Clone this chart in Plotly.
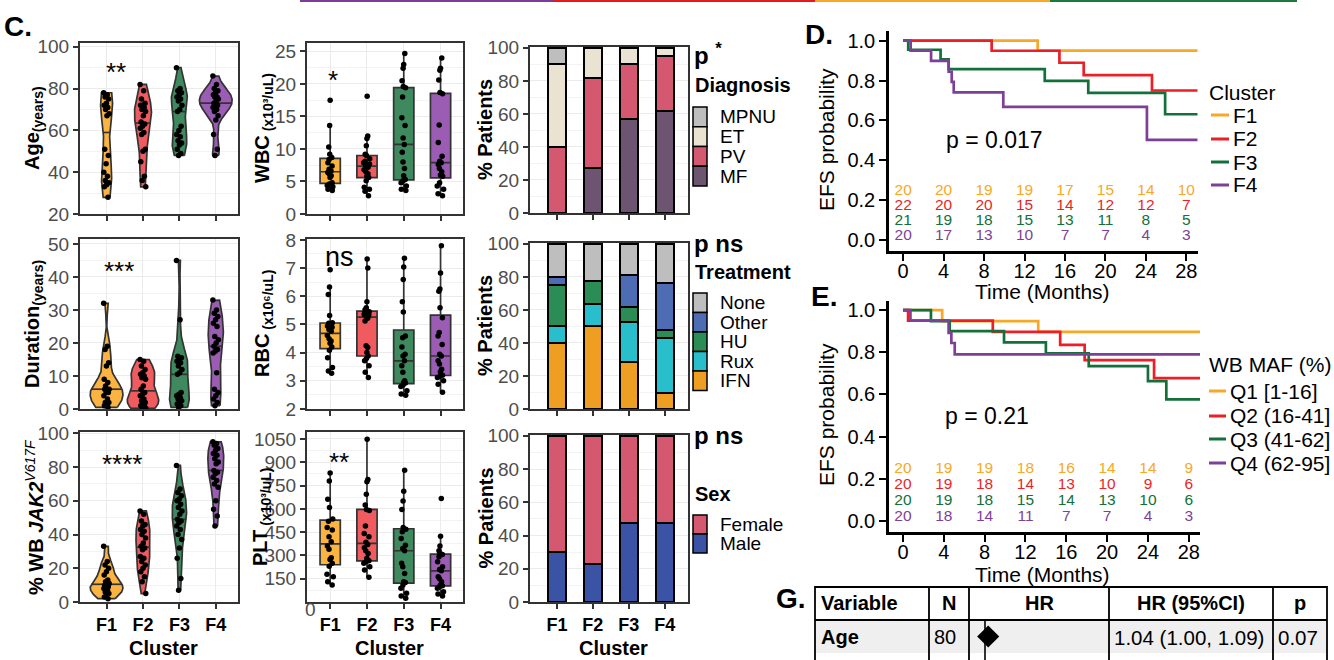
import numpy as np
import plotly.graph_objects as go

W, H = 1334, 660
FONT = "Liberation Sans, Arial, Helvetica, sans-serif"

# ---------------- data ----------------
CLUSTERS = ["F1", "F2", "F3", "F4"]
CLUSTER_POS = [1, 2, 3, 4]
CL_FILL = ["#FBB442", "#EF5B5E", "#3E8A5E", "#9B5CB4"]

AGE = [
    [78, 77, 76, 75, 73, 72, 71, 70, 68, 67, 51, 48, 44, 40, 38, 36, 35, 34, 33, 28],
    [82, 79, 75, 73, 72, 72, 71, 70, 69, 67, 64, 63, 62, 61, 59, 58, 51, 50, 45, 38, 36, 33],
    [90, 80, 79, 78, 77, 76, 75, 74, 72, 70, 69, 62, 60, 58, 57, 55, 54, 53, 51, 49, 48],
    [86, 82, 80, 79, 78, 77, 76, 76, 75, 74, 73, 72, 72, 71, 70, 69, 67, 65, 58, 51, 48],
]
DURATION = [
    [32, 19, 18, 14, 13, 9, 8, 7, 6, 6, 6, 5, 5, 4, 3, 2, 2, 1, 1, 0.5],
    [15, 14.5, 13, 12, 11, 10.5, 10, 9.5, 9, 7, 6, 5, 4.5, 4, 3, 2.5, 2, 1.5, 1, 1, 0.5, 0.2],
    [45, 27, 16, 15.5, 15, 14.5, 14, 13, 12, 11, 10.5, 5, 4.5, 4, 3.5, 3, 2.5, 2, 1.5, 1, 0.5],
    [33, 30, 29, 28, 27, 26, 25, 22, 21, 20, 19, 18, 17.5, 17, 11, 6, 5, 4, 3, 2, 1],
]
JAK2 = [
    [33, 24, 22, 20, 18, 16, 13, 12, 11, 11, 10, 9, 8, 8, 7, 6, 5, 4, 3, 2],
    [54, 52, 48, 46, 45, 43, 42, 40, 38, 35, 33, 32, 31, 27, 26, 24, 22, 20, 18, 15, 12, 5],
    [81, 67, 65, 63, 61, 60, 58, 56, 54, 52, 49, 48, 47, 45, 43, 40, 37, 32, 26, 14, 7],
    [95, 94, 93, 91, 90, 88, 87, 85, 83, 82, 78, 77, 76, 74, 72, 70, 68, 60, 55, 51, 45],
]
WBC = [
    [3.6, 3.8, 4.2, 4.4, 4.6, 4.8, 5.6, 5.9, 6.2, 6.4, 6.6, 6.9, 7.4, 7.9, 8.4, 8.7, 9.2, 10.3, 13.6, 17.5],
    [2.8, 3.5, 3.8, 4.1, 5.1, 5.6, 5.8, 6.2, 6.5, 6.8, 7.2, 7.5, 7.7, 7.9, 8.1, 8.5, 9.0, 9.2, 10.5, 11.6, 12.0, 18.1],
    [3.6, 3.8, 4.3, 4.8, 5.1, 5.3, 5.9, 7.0, 8.0, 9.5, 10.7, 11.7, 13.6, 14.8, 18.0, 19.4, 19.6, 20.5, 22.4, 23.0, 24.7],
    [2.8, 3.1, 3.8, 4.3, 4.8, 5.8, 6.0, 6.5, 7.0, 7.6, 7.9, 8.1, 8.9, 11.0, 13.7, 18.5, 18.7, 20.6, 22.1, 22.4, 24.0],
]
RBC = [
    [3.27, 3.35, 3.47, 3.82, 4.08, 4.2, 4.33, 4.41, 4.49, 4.61, 4.76, 4.82, 4.9, 4.94, 5.04, 5.06, 5.32, 6.06, 6.33, 6.94],
    [3.12, 3.3, 3.53, 3.71, 3.79, 3.88, 4.0, 4.18, 4.24, 5.12, 5.22, 5.3, 5.33, 5.35, 5.4, 5.45, 5.47, 5.52, 5.59, 5.8, 7.0, 7.32],
    [2.49, 2.53, 2.65, 2.8, 2.85, 2.92, 2.94, 3.0, 3.3, 3.53, 3.71, 3.88, 3.94, 4.2, 4.53, 4.59, 5.44, 5.8, 6.59, 7.04, 7.35],
    [2.59, 2.88, 3.0, 3.12, 3.15, 3.2, 3.32, 3.41, 3.6, 3.71, 3.88, 3.94, 4.29, 4.59, 4.71, 5.24, 5.59, 6.18, 6.26, 6.82, 7.79],
]
PLT = [
    [109, 131, 163, 178, 230, 250, 274, 285, 339, 360, 388, 420, 463, 480, 520, 535, 609, 662, 780, 831],
    [159, 206, 227, 249, 259, 265, 281, 313, 330, 350, 370, 385, 420, 441, 489, 590, 596, 624, 694, 774, 789, 1048],
    [24, 39, 56, 88, 109, 126, 131, 184, 227, 249, 330, 345, 366, 409, 452, 469, 480, 596, 650, 714, 849],
    [39, 51, 66, 88, 100, 105, 109, 131, 150, 163, 201, 210, 227, 259, 291, 306, 313, 330, 360, 424, 666],
]

# stacked bars (% patients), bottom -> top
DIAG_LABELS = ["MF", "PV", "ET", "MPNU"]
DIAG_MF = [0, 27.3, 57.1, 61.9]
DIAG_PV = [40, 54.5, 33.3, 33.3]
DIAG_ET = [50, 18.2, 9.6, 4.8]
DIAG_MPNU = [10, 0, 0, 0]
DIAG_COLORS = ["#6D5572", "#D4586F", "#EAE3D2", "#BEBEBE"]

TREAT_LABELS = ["IFN", "Rux", "HU", "Other", "None"]
TREAT_IFN = [40, 50, 28.6, 9.5]
TREAT_RUX = [10, 13.6, 23.8, 33.3]
TREAT_HU = [25, 13.6, 9.5, 4.8]
TREAT_OTHER = [5, 0, 19.0, 28.6]
TREAT_NONE = [20, 22.8, 19.1, 23.8]
TREAT_COLORS = ["#EE9E22", "#29BECB", "#2C8C56", "#4D6CB3", "#BEBEBE"]

SEX_LABELS = ["Male", "Female"]
SEX_MALE = [30, 22.7, 47.6, 47.6]
SEX_FEMALE = [70, 77.3, 52.4, 52.4]
SEX_COLORS = ["#3B53A4", "#D4586F"]

# Kaplan-Meier (D: clusters)
KM_COLORS = ["#F9A825", "#EC1F26", "#12703A", "#7E3F98"]
D_T = [
    [0, 13.3, 29.1],
    [0, 8.75, 15.45, 17.85, 24.6, 29.1],
    [0, 0.5, 3.7, 4.5, 14.0, 18.3, 25.9, 29.1],
    [0, 0.74, 2.76, 4.5, 4.8, 5.0, 9.9, 24.1, 29.1],
]
D_S = [
    [1, 0.95, 0.95],
    [1, 0.949, 0.889, 0.827, 0.75, 0.75],
    [1, 0.954, 0.906, 0.857, 0.798, 0.738, 0.631, 0.631],
    [1, 0.95, 0.898, 0.844, 0.793, 0.741, 0.668, 0.503, 0.503],
]
D_NAMES = ["F1", "F2", "F3", "F4"]
D_RISK = [
    [20, 20, 19, 19, 17, 15, 14, 10],
    [22, 20, 20, 15, 14, 12, 12, 7],
    [21, 19, 18, 15, 13, 11, 8, 5],
    [20, 17, 13, 10, 7, 7, 4, 3],
]
D_P = "p = 0.017"

# Kaplan-Meier (E: WB MAF quartiles)
E_T = [
    [0, 3.84, 13.25, 29.1],
    [0, 0.5, 8.8, 15.4, 17.8, 24.6, 29.1],
    [0, 2.74, 4.57, 9.9, 14.0, 18.2, 24.0, 25.8, 29.1],
    [0, 0.73, 4.47, 4.74, 5.07, 29.1],
]
E_S = [
    [1, 0.948, 0.897, 0.897],
    [1, 0.95, 0.897, 0.835, 0.763, 0.677, 0.677],
    [1, 0.948, 0.9, 0.847, 0.795, 0.734, 0.663, 0.577, 0.577],
    [1, 0.95, 0.892, 0.844, 0.79, 0.79],
]
E_NAMES = ["Q1 [1-16]", "Q2 (16-41]", "Q3 (41-62]", "Q4 (62-95]"]
E_RISK = [
    [20, 19, 19, 18, 16, 14, 14, 9],
    [20, 19, 18, 14, 13, 10, 9, 6],
    [20, 19, 18, 15, 14, 13, 10, 6],
    [20, 18, 14, 11, 7, 7, 4, 3],
]
E_P = "p = 0.21"
RISK_TIMES = [0, 4, 8, 12, 16, 20, 24, 28]
KM_XTICKS = [0, 4, 8, 12, 16, 20, 24, 28]
KM_YTICKS = [0, 0.2, 0.4, 0.6, 0.8, 1.0]

# table G
TAB_HEAD = ["Variable", "N", "HR", "HR (95%CI)", "p"]
TAB_VAR = "Age"
TAB_N = "80"
TAB_HR = 1.04
TAB_CI = "1.04 (1.00, 1.09)"
TAB_P = "0.07"
HR_REF = 1.0

# ---------------- helpers ----------------
def xdom(a, b):
    return [a / W, b / W]


def ydom(top, bot):
    return [1 - bot / H, 1 - top / H]


def PX(x):
    return x / W


def PY(y):
    return 1 - y / H


fig = go.Figure()
layout = {}
ann = []
shapes = []


def A(text, x, y, size, color="black", xa="center", ya="middle", angle=0, xref="paper", yref="paper"):
    if xref == "paper":
        x = PX(x)
    if yref == "paper":
        y = PY(y)
    ann.append(dict(text=text, x=x, y=y, xref=xref, yref=yref, xanchor=xa, yanchor=ya,
                    textangle=angle, showarrow=False,
                    font=dict(size=size, color=color, family=FONT)))


def cat_xaxis(dom, rng, anchor, labels):
    return dict(domain=dom, range=rng, anchor=anchor, tickmode="array", tickvals=CLUSTER_POS,
                ticktext=[f"<b>{c}</b>" for c in CLUSTERS], showticklabels=labels,
                ticks="outside", ticklen=5, tickwidth=1.5, tickcolor="#333333",
                showline=True, mirror=True, linecolor="#333333", linewidth=2,
                showgrid=True, gridcolor="#EBEBEB", gridwidth=1.4, zeroline=False,
                tickfont=dict(size=18, color="black", family=FONT), fixedrange=True,
                automargin=False)


def val_yaxis(dom, rng, anchor, tv, minor):
    return dict(domain=dom, range=rng, anchor=anchor, tickmode="array", tickvals=tv,
                ticks="outside", ticklen=5, tickwidth=1.5, tickcolor="#333333",
                showline=True, mirror=True, linecolor="#333333", linewidth=2,
                showgrid=True, gridcolor="#EBEBEB", gridwidth=1.4, zeroline=False,
                tickfont=dict(size=19, color="#4D4D4D", family=FONT),
                minor=dict(tickmode="array", tickvals=minor, showgrid=True,
                           gridcolor="#F3F3F3", gridwidth=0.9, ticks=""),
                fixedrange=True, automargin=False)


def kde(vals):
    v = np.asarray(vals, float)
    n = len(v)
    sd = v.std(ddof=1)
    q75, q25 = np.percentile(v, [75, 25])
    lo = min(sd, (q75 - q25) / 1.34)
    if lo <= 0:
        lo = sd
    bw = 0.9 * lo * n ** (-0.2)
    grid = np.linspace(v.min(), v.max(), 256)
    d = np.exp(-0.5 * ((grid[:, None] - v[None, :]) / bw) ** 2).sum(1) / (n * bw * np.sqrt(2 * np.pi))
    return grid, d


# ---------------- panel geometry ----------------
COL1 = (80, 238)
COL2 = (307, 463)
COL3 = (530, 688)
ROWS12 = [(43, 214), (239, 409), (432, 602)]
ROWS3 = [(47, 213), (243, 409), (435, 602)]

# violins
violin_specs = [
    (AGE, 1, ROWS12[0], [20, 101.8], [20, 40, 60, 80, 100], [30, 50, 70, 90]),
    (DURATION, 2, ROWS12[1], [0, 51.5], [0, 10, 20, 30, 40, 50], [5, 15, 25, 35, 45]),
    (JAK2, 3, ROWS12[2], [0, 100.8], [0, 20, 40, 60, 80, 100], [10, 30, 50, 70, 90]),
]
for data, ax, (top, bot), yr, tv, mn in violin_specs:
    layout[f"xaxis{ax}"] = cat_xaxis(xdom(*COL1), [0.27, 4.61], f"y{ax}", ax == 3)
    layout[f"yaxis{ax}"] = val_yaxis(ydom(top, bot), yr, f"x{ax}", tv, mn)
    dens = [kde(v) for v in data]
    maxd = max(d.max() for _, d in dens)
    for k, (vals, (grid, d)) in enumerate(zip(data, dens)):
        pos = CLUSTER_POS[k]
        hw = 0.45 * d / maxd
        xs = np.concatenate([pos + hw, (pos - hw)[::-1], [pos + hw[0]]])
        ys = np.concatenate([grid, grid[::-1], [grid[0]]])
        fig.add_trace(go.Scatter(x=xs, y=ys, mode="lines", fill="toself", fillcolor=CL_FILL[k],
                                 line=dict(color="#333333", width=1.7), xaxis=f"x{ax}", yaxis=f"y{ax}",
                                 hoverinfo="skip", showlegend=False))
        med = float(np.median(vals))
        hwm = float(np.interp(med, grid, hw))
        fig.add_trace(go.Scatter(x=[pos - hwm, pos + hwm], y=[med, med], mode="lines",
                                 line=dict(color="#333333", width=1.7), xaxis=f"x{ax}", yaxis=f"y{ax}",
                                 hoverinfo="skip", showlegend=False))
        n = len(vals)
        offs = (((np.arange(n) * 0.6180339887) % 1.0) - 0.5) * 0.16
        fig.add_trace(go.Scatter(x=pos + offs, y=vals, mode="markers",
                                 marker=dict(color="black", size=5.5), xaxis=f"x{ax}", yaxis=f"y{ax}",
                                 hoverinfo="skip", showlegend=False))

# boxes
box_specs = [
    (WBC, 4, ROWS12[0], [0, 26.3], [0, 5, 10, 15, 20, 25], [2.5, 7.5, 12.5, 17.5, 22.5]),
    (RBC, 5, ROWS12[1], [2, 8.03], [2, 3, 4, 5, 6, 7, 8], [2.5, 3.5, 4.5, 5.5, 6.5, 7.5]),
    (PLT, 6, ROWS12[2], [0, 1095], [150, 300, 450, 600, 750, 900, 1050], [75, 225, 375, 525, 675, 825, 975]),
]
for data, ax, (top, bot), yr, tv, mn in box_specs:
    layout[f"xaxis{ax}"] = cat_xaxis(xdom(*COL2), [0.37, 4.61], f"y{ax}", ax == 6)
    layout[f"yaxis{ax}"] = val_yaxis(ydom(top, bot), yr, f"x{ax}", tv, mn)
    for k, vals in enumerate(data):
        fig.add_trace(go.Box(x=[CLUSTER_POS[k]] * len(vals), y=vals, boxpoints="all", jitter=0.4,
                             pointpos=0, marker=dict(color="black", size=5.5),
                             fillcolor=CL_FILL[k], line=dict(color="#333333", width=1.7),
                             width=0.55, whiskerwidth=0, xaxis=f"x{ax}", yaxis=f"y{ax}",
                             hoverinfo="skip", showlegend=False))

# stacked bars
bar_specs = [
    ([DIAG_MF, DIAG_PV, DIAG_ET, DIAG_MPNU], DIAG_COLORS, 7, ROWS3[0]),
    ([TREAT_IFN, TREAT_RUX, TREAT_HU, TREAT_OTHER, TREAT_NONE], TREAT_COLORS, 8, ROWS3[1]),
    ([SEX_MALE, SEX_FEMALE], SEX_COLORS, 9, ROWS3[2]),
]
for series, cols, ax, (top, bot) in bar_specs:
    layout[f"xaxis{ax}"] = cat_xaxis(xdom(*COL3), [0.25, 4.65], f"y{ax}", ax == 9)
    layout[f"yaxis{ax}"] = val_yaxis(ydom(top, bot), [0, 100.5], f"x{ax}",
                                     [0, 20, 40, 60, 80, 100], [10, 30, 50, 70, 90])
    for s, c in zip(series, cols):
        fig.add_trace(go.Bar(x=CLUSTER_POS, y=s, marker=dict(color=c, line=dict(color="black", width=2)),
                             width=0.5, xaxis=f"x{ax}", yaxis=f"y{ax}", hoverinfo="skip",
                             showlegend=False))

# Kaplan-Meier panels
def km_axes(ax, xd, yd, xr, yr):
    layout[f"xaxis{ax}"] = dict(domain=xd, range=xr, anchor=f"y{ax}", tickmode="array", tickvals=KM_XTICKS,
                                ticks="outside", ticklen=7, tickwidth=2, tickcolor="black",
                                showline=True, linecolor="black", linewidth=2.5, mirror=False,
                                showgrid=False, zeroline=False, automargin=False,
                                ticklabelstandoff=-7,
                                tickfont=dict(size=20, color="black", family=FONT), fixedrange=True)
    layout[f"yaxis{ax}"] = dict(domain=yd, range=yr, anchor=f"x{ax}", tickmode="array", tickvals=KM_YTICKS,
                                tickformat=".1f", ticks="outside", ticklen=7, tickwidth=2,
                                tickcolor="black", showline=True, linecolor="black", linewidth=2.5,
                                mirror=False, showgrid=False, zeroline=False, automargin=False,
                                tickfont=dict(size=20, color="black", family=FONT), fixedrange=True)


RISK_ROWS_D = [0.248, 0.172, 0.095, 0.019]
RISK_ROWS_E = [0.244, 0.170, 0.094, 0.018]

km_axes(10, xdom(889, 1198), ydom(31, 251), [-1.4, 29.15], [-0.054, 1.048])
km_axes(11, xdom(889, 1200), ydom(301, 532), [-1.37, 29.1], [-0.052, 1.043])

for ax, TT, SS, RISK, rows in [(10, D_T, D_S, D_RISK, RISK_ROWS_D), (11, E_T, E_S, E_RISK, RISK_ROWS_E)]:
    for k in range(4):
        fig.add_trace(go.Scatter(x=TT[k], y=SS[k], mode="lines", line=dict(color=KM_COLORS[k], width=2.7, shape="hv"),
                                 xaxis=f"x{ax}", yaxis=f"y{ax}", hoverinfo="skip", showlegend=False))
    for k in range(4):
        fig.add_trace(go.Scatter(x=RISK_TIMES, y=[rows[k]] * len(RISK_TIMES), mode="text",
                                 text=[str(v) for v in RISK[k]],
                                 textfont=dict(size=15.5, color=KM_COLORS[k], family=FONT),
                                 xaxis=f"x{ax}", yaxis=f"y{ax}", hoverinfo="skip", showlegend=False,
                                 cliponaxis=False))

A(D_P, 9.0, 0.50, 23, xref="x10", yref="y10")
A(E_P, 8.2, 0.50, 23, xref="x11", yref="y11")

# HR forest axis (table G)
layout["xaxis12"] = dict(domain=xdom(969, 1109), range=[0.8, 2.55], anchor="y12", visible=False,
                         fixedrange=True, automargin=False)
layout["yaxis12"] = dict(domain=ydom(620, 653), range=[0, 1], anchor="x12", visible=False,
                         fixedrange=True, automargin=False)

# ---------------- table G shapes ----------------
TX = [815, 929, 969, 1109, 1273, 1327]
shapes.append(dict(type="rect", xref="paper", yref="paper", x0=PX(TX[0]), x1=PX(TX[-1]), y0=PY(653), y1=PY(620),
                   fillcolor="#EFEFEF", line=dict(width=0), layer="below"))
shapes.append(dict(type="line", xref="x12", yref="paper", x0=HR_REF, x1=HR_REF, y0=PY(661), y1=PY(621),
                   line=dict(color="black", width=1.6), layer="below"))
for yy in [587, 620]:
    shapes.append(dict(type="line", xref="paper", yref="paper", x0=PX(TX[0]), x1=PX(TX[-1]), y0=PY(yy), y1=PY(yy),
                       line=dict(color="black", width=1.8)))
for xx in TX:
    shapes.append(dict(type="line", xref="paper", yref="paper", x0=PX(xx), x1=PX(xx), y0=PY(586), y1=PY(662),
                       line=dict(color="black", width=1.8)))
fig.add_trace(go.Scatter(x=[TAB_HR], y=[0.5], mode="markers", marker=dict(symbol="diamond", size=17, color="black"),
                         xaxis="x12", yaxis="y12", hoverinfo="skip", showlegend=False))

A("<b>Variable</b>", 819, 603, 20, xa="left")
A("<b>N</b>", 949, 603, 20)
A("<b>HR</b>", 1039, 603, 20)
A("<b>HR (95%CI)</b>", 1191, 603, 20)
A("<b>p</b>", 1300, 603, 20)
A(f"<b>{TAB_VAR}</b>", 819, 637, 20, xa="left")
A(TAB_N, 932, 637, 20, xa="left")
A(TAB_CI, 1112, 637, 20.5, xa="left")
A(TAB_P, 1276, 637, 20.5, xa="left")

# ---------------- titles / labels ----------------
A("<b>C.</b>", 18, 26, 28)
A("<b>D.</b>", 819, 34, 28)
A("<b>E.</b>", 824, 297, 28)
A("<b>G.</b>", 791, 598, 28)

A("<b>Age</b><sub><b>(years)</b></sub>", 33, 128, 20, angle=-90)
A("<b>Duration</b><sub><b>(years)</b></sub>", 33, 324, 20, angle=-90)
A("<b>% WB <i>JAK2</i></b><sup><i>V617F</i></sup>", 34, 517, 20, angle=-90)
A("<b>WBC</b><sub><b> (x10³/uL)</b></sub>", 263, 128, 20, angle=-90)
A("<b>RBC</b><sub><b> (x10⁶/uL)</b></sub>", 263, 324, 20, angle=-90)
A("<b>PLT</b><sub><b> (x10³/uL)</b></sub>", 261, 517, 20, angle=-90)
for top, bot in ROWS3:
    A("<b>% Patients</b>", 485, (top + bot) / 2, 20, angle=-90)

for cx in [(COL1[0] + COL1[1]) / 2, (COL2[0] + COL2[1]) / 2, (COL3[0] + COL3[1]) / 2]:
    A("<b>Cluster</b>", cx + 4, 648, 20)

A("0", 310, 609, 19, color="#4D4D4D")

# significance marks
A("**", 116, 72, 26)
A("*", 333, 80, 26)
A("***", 119, 271, 26)
A("ns", 339, 257, 27)
A("****", 122, 464, 26)
A("**", 339, 462, 26)

# bar legends
def bar_legend(title, ptext, ptext_y, title_y, labels, colors, top, h):
    A(ptext, 692, ptext_y, 24, xa="left")
    A(f"<b>{title}</b>", 693, title_y, 20, xa="left")
    for i, (lab, col) in enumerate(zip(labels, colors)):
        y0 = top + i * h
        shapes.append(dict(type="rect", xref="paper", yref="paper", x0=PX(693), x1=PX(707),
                           y0=PY(y0 + h), y1=PY(y0), fillcolor=col, line=dict(color="black", width=1.5)))
        A(lab, 718, y0 + h / 2, 19, xa="left")


bar_legend("Diagnosis", "<b>p <sup>*</sup></b>", 54, 85, DIAG_LABELS[::-1], DIAG_COLORS[::-1], 107, 19.75)
bar_legend("Treatment", "<b>p ns</b>", 243, 272, TREAT_LABELS[::-1], TREAT_COLORS[::-1], 293, 19.5)
bar_legend("Sex", "<b>p ns</b>", 435, 494, SEX_LABELS[::-1], SEX_COLORS[::-1], 515, 19)

# KM labels
A("EFS probability", 826, 140, 21, angle=-90)
A("EFS probability", 826, 415, 21, angle=-90)
A("Time (Months)", 1042, 291, 21)
A("Time (Months)", 1042, 574, 21)

A("Cluster", 1207, 92, 21, xa="left")
for k, (nm, yy) in enumerate(zip(D_NAMES, [115, 139, 162, 185])):
    shapes.append(dict(type="line", xref="paper", yref="paper", x0=PX(1211), x1=PX(1229), y0=PY(yy), y1=PY(yy),
                       line=dict(color=KM_COLORS[k], width=3)))
    A(nm, 1231, yy, 21, xa="left")
A("WB MAF (%)", 1207, 365, 21, xa="left")
for k, (nm, yy) in enumerate(zip(E_NAMES, [391, 416, 439, 463])):
    shapes.append(dict(type="line", xref="paper", yref="paper", x0=PX(1209), x1=PX(1226), y0=PY(yy), y1=PY(yy),
                       line=dict(color=KM_COLORS[k], width=3)))
    A(nm, 1228, yy, 21, xa="left")

# top colour strip
for x0, x1, c in [(300, 553, "#7D3C98"), (553, 815, "#E41A1C"), (815, 1050, "#F9A825"), (1050, 1297, "#1A7A3C")]:
    shapes.append(dict(type="line", xref="paper", yref="paper", x0=PX(x0), x1=PX(x1), y0=PY(1), y1=PY(1),
                       line=dict(color=c, width=2)))

fig.update_layout(**layout)
fig.update_layout(width=W, height=H, margin=dict(l=0, r=0, t=0, b=0, pad=0, autoexpand=False), autosize=False,
                  paper_bgcolor="white", plot_bgcolor="rgba(0,0,0,0)", showlegend=False,
                  barmode="stack", font=dict(family=FONT, color="black"),
                  annotations=ann, shapes=shapes)

fig.write_html("out.html", config={"displayModeBar": False},
               post_script="document.body.style.margin='0px';document.body.style.overflow='hidden';")
